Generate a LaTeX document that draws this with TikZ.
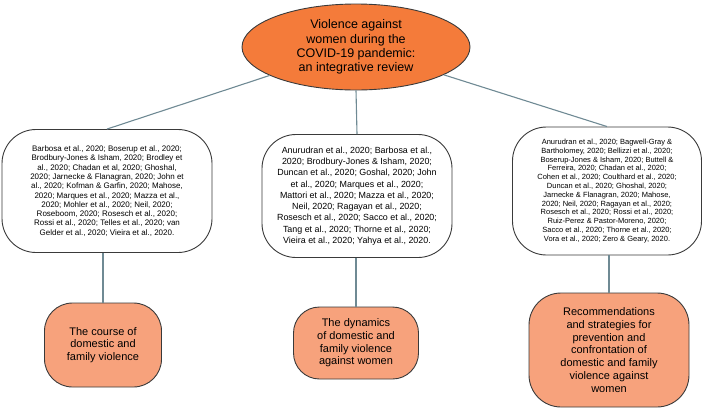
\documentclass[tikz,border=0pt]{standalone}
\usepackage{fontspec}
\setmainfont{Liberation Sans}
\usetikzlibrary{shapes.geometric}
\definecolor{ovalfill}{HTML}{F47B3A}
\definecolor{topicfill}{HTML}{F7A27C}
\definecolor{bordc}{HTML}{3A3A3A}
\definecolor{linec}{HTML}{6F8A94}
\begin{document}
\begin{tikzpicture}[x=1pt,y=-1pt,
  conn/.style={draw=linec, line width=1.1pt},
  citebox/.style={draw=bordc, line width=0.9pt, rounded corners=34pt, fill=white, align=center, inner sep=0pt},
  topic/.style={draw=bordc, line width=0.9pt, fill=topicfill, align=center, inner sep=0pt,
    font=\fontsize{11}{12.7}\selectfont}]
\useasboundingbox (0,0) rectangle (709,410);
\node[ellipse, draw=bordc, line width=0.9pt, fill=ovalfill, minimum width=228pt, minimum height=86pt, inner sep=0pt,
  align=center, font=\fontsize{12.5}{14.4}\selectfont] (title) at (356,47)
  {Violence against\\women during the\\COVID-19 pandemic:\\an integrative review};
\node[citebox, minimum width=210pt, minimum height=123pt, font=\fontsize{8}{9.3}\selectfont] (b1) at (107,191)
  {Barbosa et al., 2020; Boserup et al., 2020;\\Brodbury-Jones \& Isham, 2020; Brodley et\\al., 2020; Chadan et al, 2020; Ghoshal,\\2020; Jarnecke \& Flanagran, 2020; John et\\al., 2020; Kofman \& Garfin, 2020; Mahose,\\2020; Marques et al., 2020; Mazza et al.,\\2020; Mohler et al., 2020; Neil, 2020;\\Roseboom, 2020; Rosesch et al., 2020;\\Rossi et al., 2020; Telles et al., 2020; van\\Gelder et al., 2020; Vieira et al., 2020.};
\node[citebox, minimum width=190pt, minimum height=123pt, font=\fontsize{8.9}{11.3}\selectfont] (b2) at (357,196)
  {Anurudran et al., 2020; Barbosa et al.,\\2020; Brodbury-Jones \& Isham, 2020;\\Duncan et al., 2020; Goshal, 2020; John\\et al., 2020; Marques et al., 2020;\\Mattori et al., 2020; Mazza et al., 2020;\\Neil, 2020; Ragayan et al., 2020;\\Rosesch et al., 2020; Sacco et al., 2020;\\Tang et al., 2020; Thorne et al., 2020;\\Vieira et al., 2020; Yahya et al., 2020.};
\node[citebox, minimum width=189pt, minimum height=128pt, font=\fontsize{7.5}{8.8}\selectfont] (b3) at (607,191)
  {Anurudran et al., 2020; Bagwell-Gray \&\\Bartholomey, 2020; Bellizzi et al., 2020;\\Boserup-Jones \& Isham, 2020; Buttell \&\\Ferreira, 2020; Chadan et al., 2020;\\Cohen et al., 2020; Coulthard et al., 2020;\\Duncan et al., 2020; Ghoshal, 2020;\\Jarnecke \& Flanagran, 2020; Mahose,\\2020; Neil, 2020; Ragayan et al., 2020;\\Rosesch et al., 2020; Rossi et al., 2020;\\Ruiz-Perez \& Pastor-Moreno, 2020;\\Sacco et al., 2020; Thorne et al., 2020;\\Vora et al., 2020; Zero \& Geary, 2020.};
\node[topic, rounded corners=28pt, minimum width=117pt, minimum height=84pt] (t1) at (103,345)
  {The course of\\domestic and\\family violence};
\node[topic, rounded corners=26pt, minimum width=125pt, minimum height=72pt] (t2) at (356,343)
  {The dynamics\\of domestic and\\family violence\\against women};
\node[topic, rounded corners=32pt, minimum width=160pt, minimum height=114pt] (t3) at (609,350)
  {Recommendations\\and strategies for\\prevention and\\confrontation of\\domestic and family\\violence against\\women};
\draw[conn] (title) -- (b1.north);
\draw[conn] (title.south) -- (b2.north);
\draw[conn] (title) -- (b3.north);
\draw[conn] (t1.north |- b1.south) -- (t1.north);
\draw[conn] (t2.north |- b2.south) -- (t2.north);
\draw[conn] (t3.north |- b3.south) -- (t3.north);
\end{tikzpicture}
\end{document}
